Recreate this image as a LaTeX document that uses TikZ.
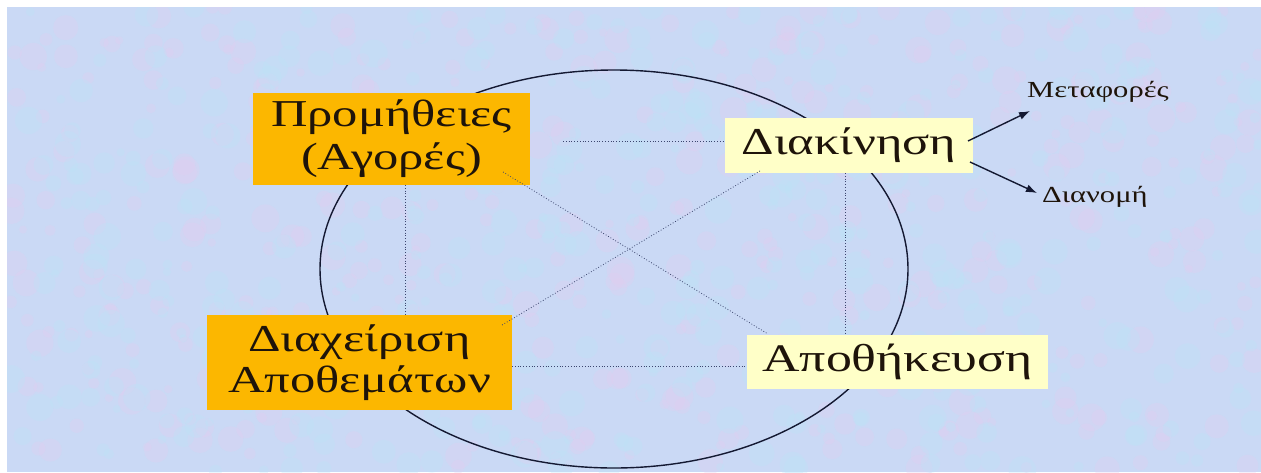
\documentclass[tikz,border=0pt]{standalone}
\usepackage{fontspec}
\usepackage{graphicx}
\setmainfont{Liberation Serif}
\usetikzlibrary{arrows.meta}
\definecolor{bgblue}{RGB}{202,217,245}
\definecolor{bgpink}{RGB}{226,206,240}
\definecolor{bgcyan}{RGB}{188,228,248}
\definecolor{orangebox}{RGB}{252,183,0}
\definecolor{creambox}{RGB}{255,255,200}
\definecolor{inkline}{RGB}{20,25,50}
\definecolor{dotline}{RGB}{60,70,110}
\definecolor{textink}{RGB}{30,20,10}
\newcommand{\widetext}[1]{\scalebox{1.33}[1]{#1}}
\tikzset{
  orangenode/.style={fill=orangebox, inner sep=0pt, align=center, text=textink},
  creamnode/.style={fill=creambox, inner sep=0pt, align=center, text=textink},
  dotconn/.style={draw=dotline, line width=0.8pt, dotted},
  arrowconn/.style={draw=inkline, line width=1.4pt, -{Latex[length=11pt,width=8pt]}},
  smalltext/.style={inner sep=0pt, anchor=base west, text=textink, font=\fontsize{23}{26}\selectfont}
}
\begin{document}
\begin{tikzpicture}[x=1pt,y=-1pt]
\useasboundingbox (0,0) rectangle (1261,472);
\fill[white] (0,0) rectangle (1261,472);
\fill[bgblue] (7,7) rectangle (1261,472);
\begin{scope}
\clip (7,7) rectangle (1261,472);
\pgfmathsetseed{4242}
\foreach \i in {1,...,450} {
  \pgfmathsetmacro{\px}{7+1254*rnd}
  \pgfmathsetmacro{\py}{7+465*rnd}
  \pgfmathsetmacro{\pr}{4+10*rnd}
  \fill[bgpink, opacity=0.3] (\px,\py) circle[radius=\pr];
}
\foreach \i in {1,...,450} {
  \pgfmathsetmacro{\px}{7+1254*rnd}
  \pgfmathsetmacro{\py}{7+465*rnd}
  \pgfmathsetmacro{\pr}{4+10*rnd}
  \fill[bgcyan, opacity=0.3] (\px,\py) circle[radius=\pr];
}
\end{scope}

% ellipse
\draw[inkline, line width=1.4pt] (614,269) ellipse[x radius=294, y radius=199];

% boxes
\node[orangenode, minimum width=277, minimum height=92,
      font=\fontsize{38}{43}\selectfont] (prom) at (391.5,139)
  {\widetext{Προμήθειες}\\\widetext{(Αγορές)}};
\node[orangenode, minimum width=305, minimum height=95,
      font=\fontsize{38}{41}\selectfont] (diax) at (359.5,362.5)
  {\widetext{Διαχείριση}\\\widetext{Αποθεμάτων}};
\node[creamnode, minimum width=248, minimum height=55,
      font=\fontsize{38}{43}\selectfont] (diak) at (849,145.5)
  {\widetext{Διακίνηση}};
\node[creamnode, minimum width=301, minimum height=54,
      font=\fontsize{39}{44}\selectfont] (apoth) at (897.5,362)
  {\widetext{Αποθήκευση}};

\node[smalltext] (metaf) at (1027,97) {\widetext{Μεταφορές}};
\node[smalltext] (dian) at (1042,202) {\widetext{Διανομή}};

% connector end points
\coordinate (p1) at (563,141);
\coordinate (p2) at (725,141);
\coordinate (p3) at (405,185);
\coordinate (p4) at (405,315);
\coordinate (p5) at (503,172);
\coordinate (p6) at (768,334);
\coordinate (p7) at (760,171);
\coordinate (p8) at (502,325);
\coordinate (p9) at (845,173);
\coordinate (p10) at (845,335);
\coordinate (p11) at (512,366);
\coordinate (p12) at (747,366);
\coordinate (a1s) at (968,141);
\coordinate (a1e) at (1030,111);
\coordinate (a2s) at (970,162);
\coordinate (a2e) at (1037,193);

\draw[dotconn] (p1) -- (p2);
\draw[dotconn] (p3) -- (p4);
\draw[dotconn] (p5) -- (p6);
\draw[dotconn] (p7) -- (p8);
\draw[dotconn] (p9) -- (p10);
\draw[dotconn] (p11) -- (p12);

\draw[arrowconn] (a1s) -- (a1e);
\draw[arrowconn] (a2s) -- (a2e);
\end{tikzpicture}
\end{document}
